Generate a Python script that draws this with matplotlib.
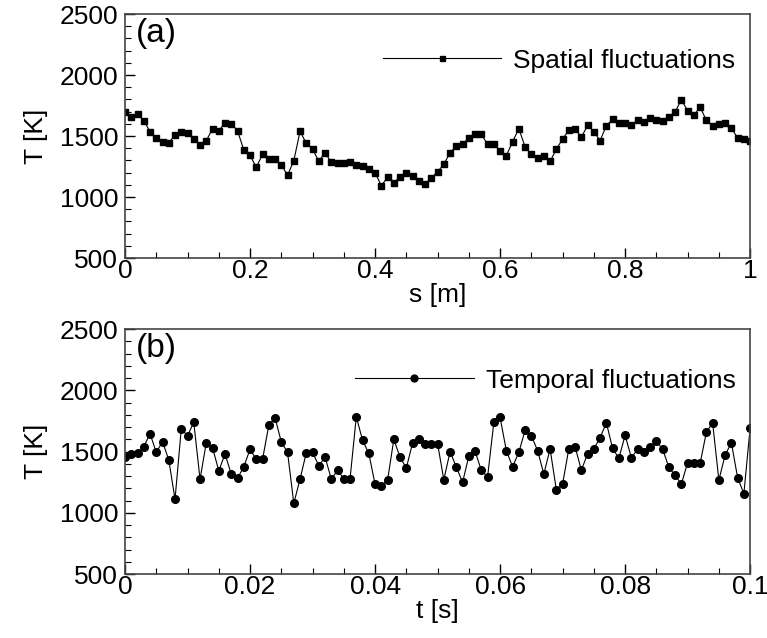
import numpy as np
import matplotlib
matplotlib.use("Agg")
from matplotlib import pyplot as plt
from matplotlib.ticker import MultipleLocator

plt.rcParams['font.family'] = ['Liberation Sans', 'DejaVu Sans']

# spatial fluctuations, s = 0 .. 1 m
s = np.linspace(0, 1, 101)
T_s = [1699, 1653, 1680, 1626, 1536, 1486, 1454, 1446, 1506, 1530,
       1522, 1478, 1424, 1462, 1560, 1544, 1609, 1601, 1544, 1385,
       1342, 1243, 1350, 1309, 1309, 1265, 1178, 1298, 1538, 1440,
       1393, 1293, 1364, 1284, 1282, 1276, 1284, 1265, 1257, 1227,
       1200, 1093, 1161, 1117, 1167, 1194, 1175, 1134, 1107, 1158,
       1207, 1268, 1364, 1418, 1432, 1486, 1514, 1514, 1432, 1432,
       1377, 1339, 1454, 1560, 1412, 1350, 1323, 1337, 1293, 1391,
       1475, 1549, 1560, 1489, 1588, 1536, 1462, 1585, 1637, 1604,
       1609, 1593, 1628, 1617, 1645, 1634, 1620, 1658, 1697, 1798,
       1707, 1670, 1738, 1628, 1585, 1596, 1609, 1568, 1481, 1475,
       1462]

# temporal fluctuations, t = 0 .. 0.1 s
t = np.linspace(0, 0.1, 101)
T_t = [1452, 1480, 1488, 1537, 1646, 1493, 1580, 1431, 1110, 1686,
       1629, 1738, 1273, 1572, 1531, 1343, 1480, 1314, 1281, 1376,
       1518, 1436, 1436, 1714, 1776, 1578, 1493, 1077, 1275, 1490,
       1493, 1384, 1455, 1275, 1346, 1278, 1278, 1784, 1591, 1485,
       1232, 1221, 1265, 1599, 1452, 1365, 1569, 1605, 1564, 1564,
       1564, 1270, 1499, 1373, 1248, 1463, 1502, 1346, 1292, 1738,
       1779, 1507, 1376, 1493, 1673, 1629, 1507, 1316, 1521, 1188,
       1235, 1523, 1537, 1349, 1480, 1520, 1613, 1735, 1526, 1444,
       1632, 1450, 1518, 1499, 1534, 1583, 1520, 1371, 1305, 1235,
       1409, 1409, 1403, 1657, 1735, 1267, 1471, 1572, 1286, 1156,
       1692]

FS = 19

fig = plt.figure(figsize=(7.67, 6.38), dpi=100)
ax1 = fig.add_axes([0.163, 0.5956, 0.815, 0.3824])
ax2 = fig.add_axes([0.163, 0.1003, 0.815, 0.384])

def style(ax, xmaj, xmin):
    ax.set_ylim(500, 2500)
    ax.yaxis.set_major_locator(MultipleLocator(500))
    ax.yaxis.set_minor_locator(MultipleLocator(100))
    ax.xaxis.set_major_locator(MultipleLocator(xmaj))
    ax.xaxis.set_minor_locator(MultipleLocator(xmin))
    ax.tick_params(which='both', direction='in', top=False, right=False,
                   labelsize=FS)
    ax.tick_params(axis='x', pad=1)
    ax.tick_params(axis='y', pad=5)
    ax.tick_params(which='major', length=7, width=1)
    ax.tick_params(which='minor', length=4, width=0.8)
    for sp in ax.spines.values():
        sp.set_color('#444444')
        sp.set_linewidth(1.2)
    ax.set_ylabel('T [K]', fontsize=FS, labelpad=8)

ax1.plot(s, T_s, '-s', color='black', lw=0.8, ms=4.5, label='Spatial fluctuations')
ax1.set_xlim(0, 1)
style(ax1, 0.2, 0.05)
ax1.set_xticklabels(['0' if v == 0 else ('1' if v == 1 else f'{v:g}') for v in ax1.get_xticks()])
ax1.set_xlabel('s [m]', fontsize=FS, labelpad=0)
ax1.text(0.018, 0.985, '(a)', transform=ax1.transAxes, fontsize=24, va='top')
ax1.legend(loc='upper right', bbox_to_anchor=(0.985, 0.88), frameon=False,
           fontsize=FS, handlelength=4.5, numpoints=1, handletextpad=0.45,
           borderaxespad=0, borderpad=0.2, markerscale=0.8)

ax2.plot(t, T_t, '-o', color='black', lw=0.8, ms=5.5, label='Temporal fluctuations')
ax2.set_xlim(0, 0.1)
style(ax2, 0.02, 0.005)
ax2.set_xticklabels(['0' if v == 0 else f'{v:g}' for v in ax2.get_xticks()])
ax2.set_xlabel('t [s]', fontsize=FS, labelpad=0)
ax2.text(0.018, 0.985, '(b)', transform=ax2.transAxes, fontsize=24, va='top')
ax2.legend(loc='upper right', bbox_to_anchor=(0.985, 0.86), frameon=False,
           fontsize=FS, handlelength=4.5, numpoints=1, handletextpad=0.45,
           borderaxespad=0, borderpad=0.2, markerscale=0.9)

fig.savefig('out.png', dpi=100)
